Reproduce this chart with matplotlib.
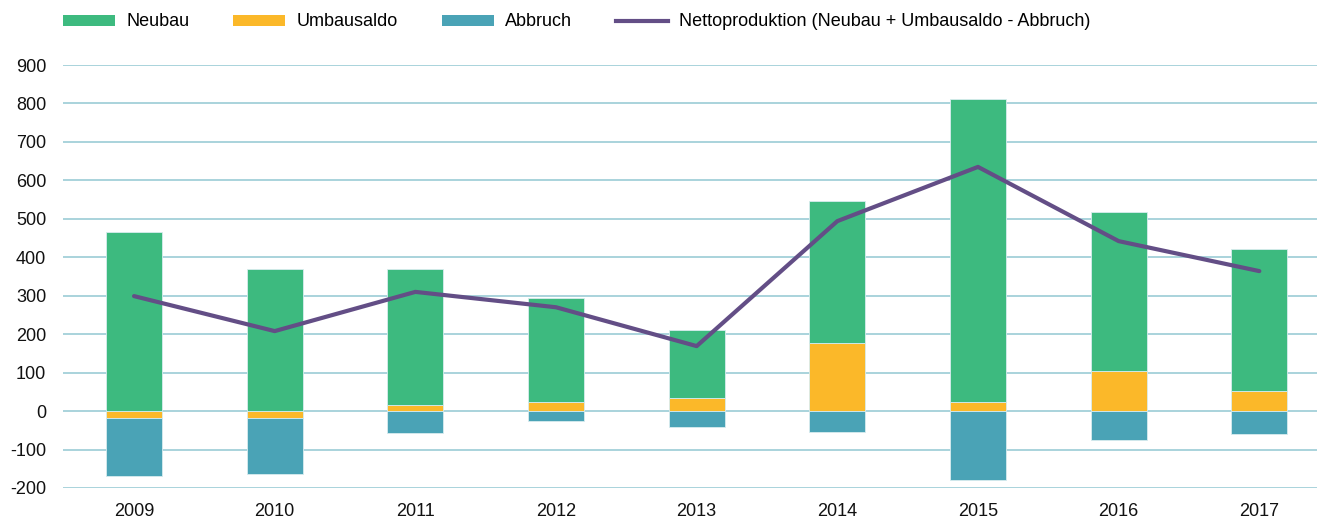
import numpy as np
import matplotlib
import matplotlib.pyplot as plt
from matplotlib.lines import Line2D
from matplotlib.patches import Patch

matplotlib.use("Agg")

years = ["2009", "2010", "2011", "2012", "2013", "2014", "2015", "2016", "2017"]
neubau = [466, 369, 353, 271, 177, 369, 788, 414, 369]
umbausaldo = [-18, -18, 16, 23, 34, 177, 23, 104, 52]
abbruch = [-151, -146, -57, -26, -42, -55, -179, -75, -60]
netto = [299, 208, 310, 270, 169, 494, 635, 442, 364]

c_neubau = "#3dba7f"
c_umbau = "#fbb829"
c_abbruch = "#4aa3b6"
c_netto = "#634e86"
c_grid = "#a9d3dc"

plt.rcParams["font.family"] = ["Liberation Sans", "DejaVu Sans"]
plt.rcParams["axes.unicode_minus"] = False

fig = plt.figure(figsize=(13.17, 5.18), dpi=100)
ax = fig.add_axes([63 / 1317, 1 - 488 / 518, 1 - 63 / 1317, (488 - 65) / 518])

x = np.arange(len(years))
u = np.array(umbausaldo)
w = 0.4
edge = dict(edgecolor="#d8ecef", linewidth=0.6)

ax.bar(x, u, w, color=c_umbau, zorder=2, **edge)
ax.bar(x, neubau, w, bottom=np.maximum(u, 0), color=c_neubau, zorder=2, **edge)
ax.bar(x, abbruch, w, bottom=np.minimum(u, 0), color=c_abbruch, zorder=2, **edge)
ax.plot(x, netto, color=c_netto, linewidth=3, zorder=3, solid_capstyle="round")

ax.set_ylim(-200, 900)
ax.set_yticks(range(-200, 901, 100))
ax.set_xlim(-0.505, 8.41)
ax.set_xticks(x)
ax.set_xticklabels(years)
ax.grid(axis="y", color=c_grid, linewidth=1.4, zorder=0)
ax.set_axisbelow(True)
for s in ax.spines.values():
    s.set_visible(False)
ax.tick_params(axis="both", length=0, labelsize=13, colors="#111111")
ax.tick_params(axis="y", pad=12)
ax.tick_params(axis="x", pad=11)

handles = [
    Patch(facecolor=c_neubau, label="Neubau"),
    Patch(facecolor=c_umbau, label="Umbausaldo"),
    Patch(facecolor=c_abbruch, label="Abbruch"),
    Line2D([0], [0], color=c_netto, linewidth=3,
           label="Nettoproduktion (Neubau + Umbausaldo - Abbruch)"),
]
fig.legend(handles=handles, loc="center left", bbox_to_anchor=(63 / 1317, 1 - 22 / 518),
           ncol=4, frameon=False, fontsize=13, handlelength=2.88, handleheight=0.55,
           handletextpad=0.61, columnspacing=2.44, borderpad=0, borderaxespad=0)

fig.savefig("out.png", dpi=100)
plt.close(fig)
